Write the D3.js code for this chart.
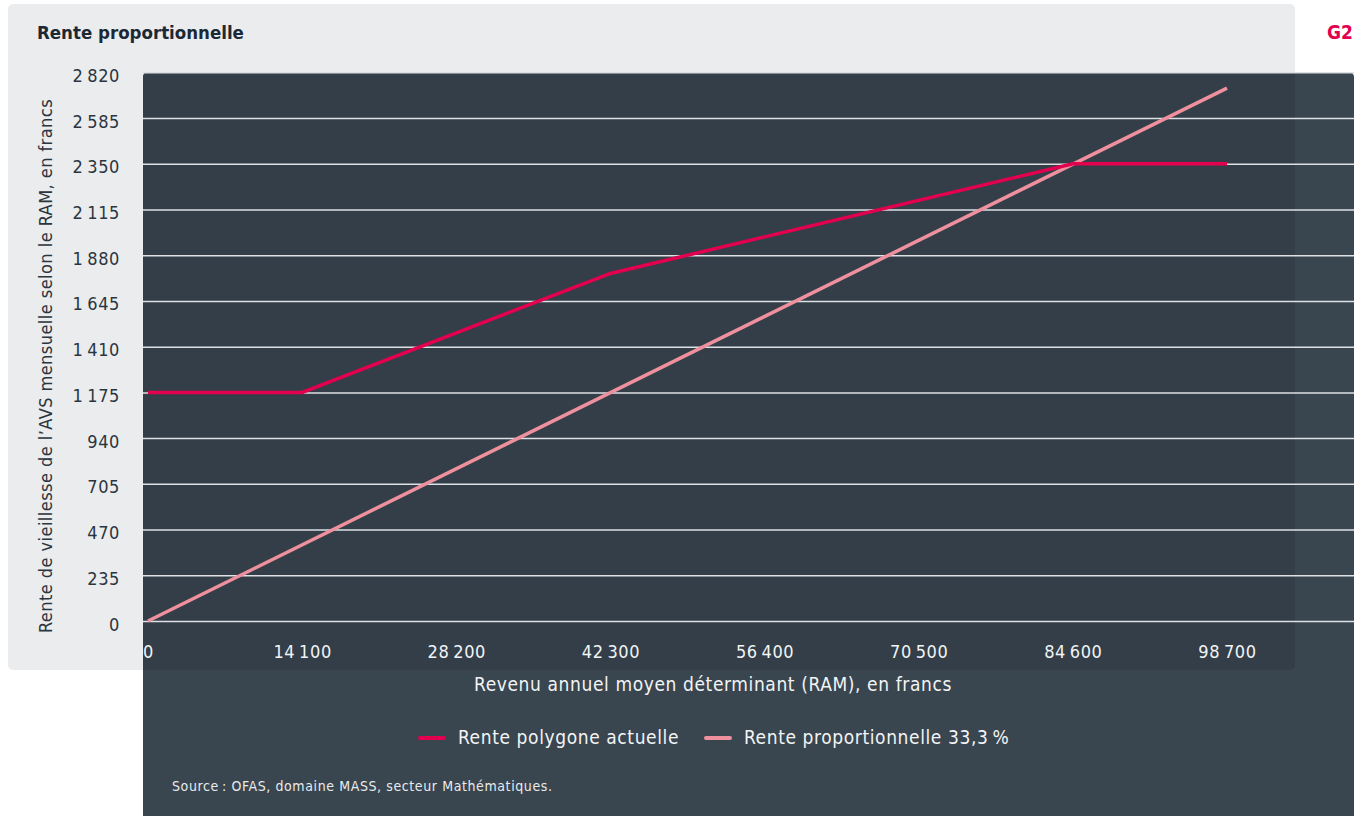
<!DOCTYPE html>
<html>
<head>
<meta charset="utf-8">
<script src="https://cdn.jsdelivr.net/npm/d3@7"></script>
<style>
  body { margin: 0; background: #fff; }
  text { font-family: "Liberation Sans Narrow", "DejaVu Sans Condensed", Roboto, sans-serif; }
</style>
</head>
<body>
<script>
// data
const ram = [0, 14100, 42300, 84600, 98700];
const rentePolygone = [1175, 1175, 1786, 2350, 2350];
const ramProp = [0, 98700];
const renteProp = [0, 2739];
const xTicks = [0, 14100, 28200, 42300, 56400, 70500, 84600, 98700];
const yTicks = [0, 235, 470, 705, 940, 1175, 1410, 1645, 1880, 2115, 2350, 2585, 2820];
const seriesNames = ["Rente polygone actuelle", "Rente proportionnelle 33,3\u2009%"];
const seriesColors = ["#e3004f", "#ee909d"];

const width = 1367;
const height = 816;

const locale = d3.formatLocale({ decimal: ",", thousands: "\u2009", grouping: [3], currency: ["", ""] });
const fmt = locale.format(",d");

const svg = d3.select("body").append("svg")
  .attr("width", width)
  .attr("height", height);

// panels
const light = { x: 8, y: 4, w: 1287, h: 666 };
const dark = { x: 143, y: 72, w: 1211, h: 780 };

svg.append("defs").append("clipPath").attr("id", "darkClip")
  .append("rect")
  .attr("x", dark.x).attr("y", dark.y).attr("width", dark.w).attr("height", dark.h).attr("rx", 5);

svg.append("rect")
  .attr("x", light.x).attr("y", light.y).attr("width", light.w).attr("height", light.h)
  .attr("rx", 5).attr("fill", "#ebeced");

svg.append("rect")
  .attr("x", dark.x).attr("y", dark.y).attr("width", dark.w).attr("height", dark.h)
  .attr("rx", 5).attr("fill", "#39454f");

svg.append("rect")
  .attr("clip-path", "url(#darkClip)")
  .attr("x", light.x).attr("y", light.y).attr("width", light.w).attr("height", light.h)
  .attr("rx", 5).attr("fill", "#333e48");

// scales
const x = d3.scaleLinear().domain([0, 98700]).range([148, 1227]);
const y = d3.scaleLinear().domain([0, 2820]).range([621, 72.3]);

// y axis + gridlines
const yAxis = svg.append("g")
  .attr("transform", `translate(${dark.x},0)`)
  .call(d3.axisLeft(y).tickValues(yTicks).tickFormat(fmt)
    .tickSize(-dark.w).tickPadding(23));
yAxis.select(".domain").remove();
yAxis.selectAll("line").attr("stroke", "#dde1e4").attr("stroke-width", 1.5);
yAxis.selectAll("text")
  .attr("fill", "#2a3540")
  .attr("font-size", 18)
  .attr("letter-spacing", 0.6)
  .attr("dy", "0.5em");

// x axis
const xAxis = svg.append("g")
  .attr("transform", `translate(0,${y(0)})`)
  .call(d3.axisBottom(x).tickValues(xTicks).tickFormat(fmt)
    .tickSize(0).tickPadding(24));
xAxis.select(".domain").remove();
xAxis.selectAll("text")
  .attr("fill", "#f2f4f5")
  .attr("font-size", 18)
  .attr("letter-spacing", 0.6);

// lines
const line = d3.line().x(d => x(d[0])).y(d => y(d[1]));

svg.append("path")
  .datum(d3.zip(ramProp, renteProp))
  .attr("d", line)
  .attr("fill", "none")
  .attr("stroke", seriesColors[1])
  .attr("stroke-width", 3.5);

svg.append("path")
  .datum(d3.zip(ram, rentePolygone))
  .attr("d", line)
  .attr("fill", "none")
  .attr("stroke", seriesColors[0])
  .attr("stroke-width", 3.5);

// titles
svg.append("text")
  .attr("x", 37).attr("y", 39)
  .attr("font-size", 18.5).attr("font-weight", "bold")
  .attr("fill", "#1c2935")
  .text("Rente proportionnelle");

svg.append("text")
  .attr("x", 1353).attr("y", 39)
  .attr("text-anchor", "end")
  .attr("font-size", 19).attr("font-weight", "bold")
  .attr("fill", "#e3004f")
  .text("G2");

svg.append("text")
  .attr("transform", "translate(52,366) rotate(-90)")
  .attr("text-anchor", "middle")
  .attr("font-size", 18)
  .attr("letter-spacing", 0.45)
  .attr("fill", "#2a3540")
  .text("Rente de vieillesse de l\u2019AVS mensuelle selon le RAM, en francs");

svg.append("text")
  .attr("x", 713).attr("y", 691)
  .attr("text-anchor", "middle")
  .attr("font-size", 19)
  .attr("letter-spacing", 0.6)
  .attr("fill", "#f2f4f5")
  .text("Revenu annuel moyen d\u00e9terminant (RAM), en francs");

// legend
const legendX = [420, 706];
const legend = svg.append("g");
seriesNames.forEach((name, i) => {
  legend.append("line")
    .attr("x1", legendX[i]).attr("x2", legendX[i] + 24)
    .attr("y1", 738).attr("y2", 738)
    .attr("stroke", seriesColors[i])
    .attr("stroke-width", 4)
    .attr("stroke-linecap", "round");
  legend.append("text")
    .attr("x", legendX[i] + 38).attr("y", 744)
    .attr("font-size", 19)
    .attr("letter-spacing", 0.6)
    .attr("fill", "#f2f4f5")
    .text(name);
});

svg.append("text")
  .attr("x", 172).attr("y", 791)
  .attr("font-size", 14)
  .attr("letter-spacing", 0.6)
  .attr("fill", "#e8ebed")
  .text("Source\u2009: OFAS, domaine MASS, secteur Math\u00e9matiques.");
</script>
</body>
</html>
